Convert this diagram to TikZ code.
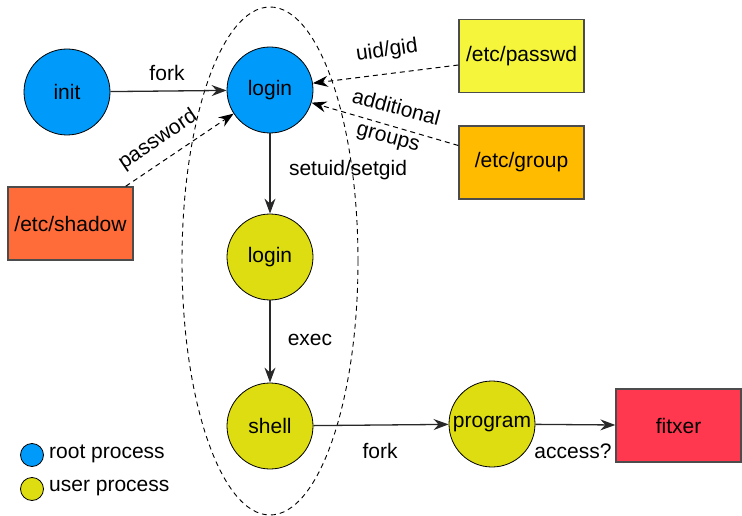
\documentclass[tikz,border=0pt]{standalone}
\usepackage{fontspec}
\setmainfont{Liberation Sans}
\usetikzlibrary{arrows.meta,shapes.geometric}
\definecolor{rootblue}{RGB}{0,155,250}
\definecolor{useryel}{RGB}{221,221,17}
\definecolor{passwdcol}{RGB}{245,245,60}
\definecolor{groupcol}{RGB}{255,187,0}
\definecolor{shadowcol}{RGB}{255,108,58}
\definecolor{fitxercol}{RGB}{255,56,80}
\definecolor{edgegray}{RGB}{40,40,40}
\tikzset{
  every node/.style={font=\fontsize{21}{24}\selectfont},
  proc/.style={circle,draw=black,line width=0.8pt,minimum size=86pt,inner sep=0pt},
  rootproc/.style={proc,fill=rootblue},
  userproc/.style={proc,fill=useryel},
  filebox/.style={rectangle,draw=black!70,line width=1.4pt,minimum width=125pt,minimum height=73pt,inner sep=0pt},
  arrtip/.style={-{Stealth[length=15pt,width=11pt,inset=5pt]}},
  solidarr/.style={draw=edgegray,line width=1.3pt,arrtip},
  dasharr/.style={draw=black,line width=1pt,dash pattern=on 5pt off 4pt,arrtip},
  lbl/.style={inner sep=1pt},
  legdot/.style={circle,draw=black,line width=0.8pt,minimum size=23pt,inner sep=0pt}
}
\begin{document}
\begin{tikzpicture}[x=1pt,y=-1pt]
\useasboundingbox (0,0) rectangle (742,516);
% dashed ellipse
\node[ellipse,draw=black,line width=0.9pt,dash pattern=on 5pt off 4pt,minimum width=176pt,minimum height=508pt,inner sep=0pt] (grp) at (270,261) {};
% processes
\node[rootproc] (init) at (67,92) {init};
\node[rootproc] (login) at (270,90) {login};
\node[userproc] (login2) at (270,257) {login};
\node[userproc] (shell) at (270,426) {shell};
\node[userproc] (prog) at (492,424) {program};
% files
\node[filebox,fill=passwdcol] (passwd) at (521.5,56) {/etc/passwd};
\node[filebox,fill=groupcol] (group) at (521.5,162.5) {/etc/group};
\node[filebox,fill=shadowcol] (shadow) at (70.5,223.5) {/etc/shadow};
\node[filebox,fill=fitxercol] (fitxer) at (678.5,425.5) {fitxer};
% edges
\draw[solidarr] (init) -- (login);
\draw[solidarr] (login) -- (login2);
\draw[solidarr] (login2) -- (shell);
\draw[solidarr] (shell) -- (prog);
\draw[solidarr] (prog) -- (fitxer);
\draw[dasharr] ([xshift=-8pt]shadow.north east) -- (login.213);
\draw[dasharr] ([yshift=-9pt]passwd.west) -- (login.9);
\draw[dasharr] ([yshift=17pt]group.west) -- (login.-17);
% labels
\node[lbl] (lfork1) at (167,73) {fork};
\node[lbl,rotate=34] (lpass) at (158,140) {password};
\node[lbl,rotate=8] (luid) at (387,51) {uid/gid};
\node[lbl,rotate=-15,align=center,font=\fontsize{21}{30}\selectfont] (lgrp) at (392,123) {additional\\groups};
\node[lbl] (lsetuid) at (348,170) {setuid/setgid};
\node[lbl] (lexec) at (310,340) {exec};
\node[lbl] (lfork2) at (380,451) {fork};
\node[lbl] (lacc) at (573,451) {access?};
% legend
\node[legdot,fill=rootblue] (legroot) at (32,455) {};
\node[legdot,fill=useryel] (leguser) at (32,489) {};
\node[lbl,anchor=west] (legrootl) at (48,454) {root process};
\node[lbl,anchor=west] (leguserl) at (48,488) {user process};
\end{tikzpicture}
\end{document}
